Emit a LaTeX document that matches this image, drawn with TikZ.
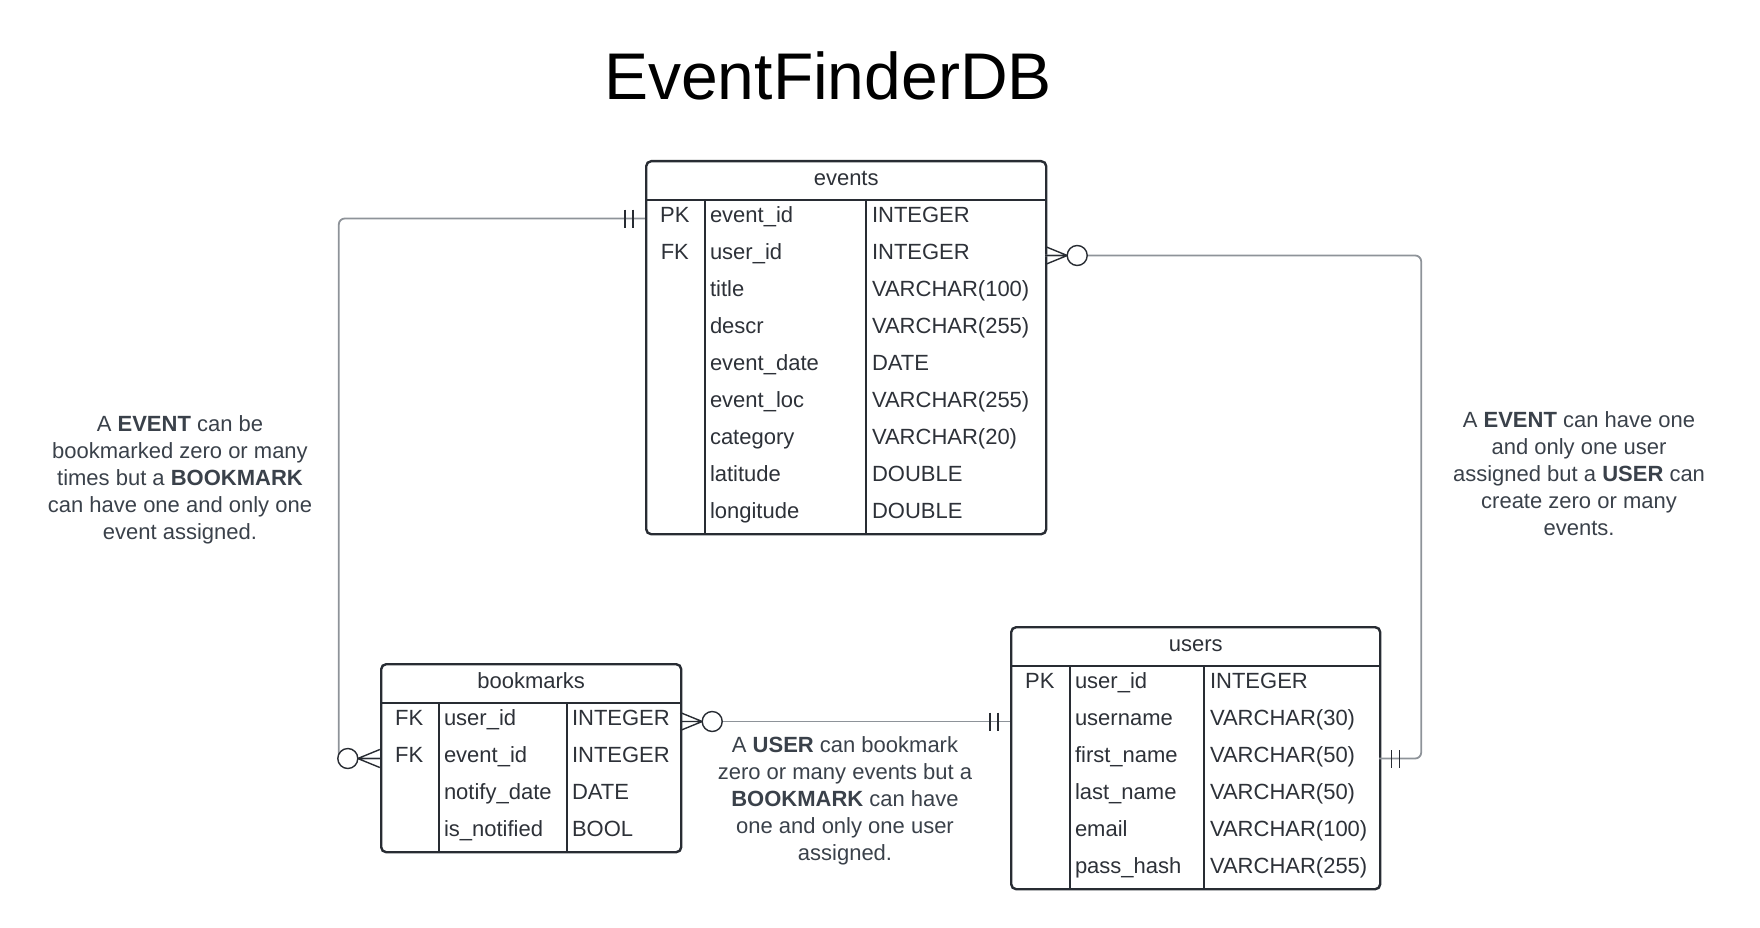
\documentclass[tikz,border=0pt]{standalone}
\usepackage{fontspec}
\setmainfont{Liberation Sans}
\usepackage{tikz}
\usetikzlibrary{positioning, calc}
\definecolor{erdink}{HTML}{282C33}
\definecolor{erdtext}{HTML}{2D3138}
\definecolor{erdnote}{HTML}{3A414A}
\definecolor{erdwire}{HTML}{8E9399}

\begin{document}
\begin{tikzpicture}[
    x=1pt, y=-1pt,
    tablebox/.style={rectangle, draw=erdink, line width=2.4pt, rounded corners=5pt, anchor=north west, inner sep=0pt},
    headtext/.style={text=erdtext, font=\fontsize{22}{26}\selectfont, inner sep=0pt, text height=15pt, text depth=0pt},
    rowbox/.style={minimum height=37pt, inner sep=0pt},
    keytext/.style={text=erdtext, font=\fontsize{22}{26}\selectfont, inner sep=0pt, text height=15.5pt, text depth=7pt},
    celltext/.style={keytext, anchor=west},
    divider/.style={draw=erdink, line width=2.4pt},
    notetext/.style={text=erdnote, font=\fontsize{22}{27}\selectfont, align=center},
    wire/.style={draw=erdwire, line width=1.8pt, rounded corners=6pt},
    endmark/.style={draw=erdink, line width=1.4pt},
    one mark/.pic={\draw[endmark] (-12,-9) -- (-12,9) (-20,-9) -- (-20,9);},
    many mark/.pic={\draw[endmark] (-22,0) -- (0,-9) (-22,0) -- (0,0) (-22,0) -- (0,9);
                    \draw[endmark, fill=white] (-32,0) circle[radius=10pt];}
]
\useasboundingbox (0,0) rectangle (1760,928);

\node[font=\fontsize{66}{79}\selectfont] (title) at (828,76) {EventFinderDB};

% events
\node[tablebox, minimum width=400pt, minimum height=373pt] (events) at (645,160) {};
\node[headtext] (events-head) at ($(events.north)+(0,18)$) {events};
\draw[divider] ([yshift=-40pt]events.north west) -- ([yshift=-40pt]events.north east);
\draw[divider] ([xshift=60pt,yshift=-40pt]events.north west) -- ([xshift=60pt]events.south west);
\draw[divider] ([xshift=221pt,yshift=-40pt]events.north west) -- ([xshift=221pt]events.south west);
\foreach \k/\n/\t [count=\i] in {PK/event\_id/INTEGER, FK/user\_id/INTEGER, /title/VARCHAR(100),
    /descr/VARCHAR(255), /event\_date/DATE, /event\_loc/VARCHAR(255), /category/VARCHAR(20),
    /latitude/DOUBLE, /longitude/DOUBLE} {
  \node[rowbox, minimum width=400pt] (events-r\i) at (845,181.5+37*\i) {};
  \node[keytext] (events-k\i) at ([xshift=30pt]events-r\i.west) {\k};
  \node[celltext] (events-n\i) at ([xshift=65pt]events-r\i.west) {\n};
  \node[celltext] (events-t\i) at ([xshift=227pt]events-r\i.west) {\t};
}

% bookmarks
\node[tablebox, minimum width=300pt, minimum height=188pt] (bookmarks) at (380,663) {};
\node[headtext] (bookmarks-head) at ($(bookmarks.north)+(0,18)$) {bookmarks};
\draw[divider] ([yshift=-40pt]bookmarks.north west) -- ([yshift=-40pt]bookmarks.north east);
\draw[divider] ([xshift=59pt,yshift=-40pt]bookmarks.north west) -- ([xshift=59pt]bookmarks.south west);
\draw[divider] ([xshift=187pt,yshift=-40pt]bookmarks.north west) -- ([xshift=187pt]bookmarks.south west);
\foreach \k/\n/\t [count=\i] in {FK/user\_id/INTEGER, FK/event\_id/INTEGER,
    /notify\_date/DATE, /is\_notified/BOOL} {
  \node[rowbox, minimum width=300pt] (bookmarks-r\i) at (530,684.5+37*\i) {};
  \node[keytext] (bookmarks-k\i) at ([xshift=29.5pt]bookmarks-r\i.west) {\k};
  \node[celltext] (bookmarks-n\i) at ([xshift=64pt]bookmarks-r\i.west) {\n};
  \node[celltext] (bookmarks-t\i) at ([xshift=192pt]bookmarks-r\i.west) {\t};
}

% users
\node[tablebox, minimum width=369pt, minimum height=262pt] (users) at (1010,626) {};
\node[headtext] (users-head) at ($(users.north)+(0,18)$) {users};
\draw[divider] ([yshift=-40pt]users.north west) -- ([yshift=-40pt]users.north east);
\draw[divider] ([xshift=60pt,yshift=-40pt]users.north west) -- ([xshift=60pt]users.south west);
\draw[divider] ([xshift=194pt,yshift=-40pt]users.north west) -- ([xshift=194pt]users.south west);
\foreach \k/\n/\t [count=\i] in {PK/user\_id/INTEGER, /username/VARCHAR(30), /first\_name/VARCHAR(50),
    /last\_name/VARCHAR(50), /email/VARCHAR(100), /pass\_hash/VARCHAR(255)} {
  \node[rowbox, minimum width=369pt] (users-r\i) at (1194.5,647.5+37*\i) {};
  \node[keytext] (users-k\i) at ([xshift=30pt]users-r\i.west) {\k};
  \node[celltext] (users-n\i) at ([xshift=65pt]users-r\i.west) {\n};
  \node[celltext] (users-t\i) at ([xshift=200pt]users-r\i.west) {\t};
}

\node[notetext] (note-bookmark) at (180,480) {A \textbf{EVENT} can be\\bookmarked zero or many\\times but a \textbf{BOOKMARK}\\can have one and only one\\event assigned.};
\node[notetext] (note-user) at (1579,474) {A \textbf{EVENT} can have one\\and only one user\\assigned but a \textbf{USER} can\\create zero or many\\events.};
\node[notetext] (note-link) at (845,801) {A \textbf{USER} can bookmark\\zero or many events but a\\\textbf{BOOKMARK} can have\\one and only one user\\assigned.};

\draw[wire] (events-r1.west) -- ++(-306,0) |- (bookmarks-r2.west);
\draw[wire] (events-r2.east) -- ++(376,0) |- (users-r3.east);
\draw[wire] (bookmarks-r1.east) -- (users-r2.west);

\pic at (events-r1.west) {one mark};
\pic at (bookmarks-r2.west) {many mark};
\pic[rotate=180] at (events-r2.east) {many mark};
\pic[rotate=180] at (users-r3.east) {one mark};
\pic[rotate=180] at (bookmarks-r1.east) {many mark};
\pic at (users-r2.west) {one mark};

\end{tikzpicture}
\end{document}
